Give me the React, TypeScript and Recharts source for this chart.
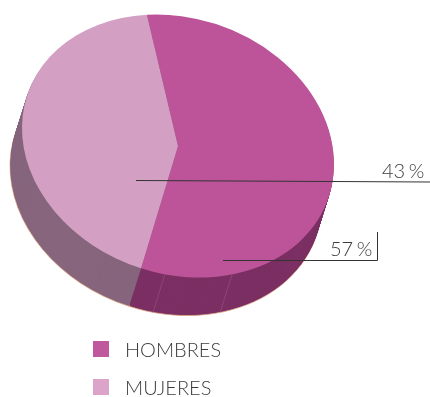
// Tilted pie with an extruded wall, Hombres / Mujeres

import React from "react";
import { PieChart, Pie, Cell, Legend } from "recharts";

const categories = ["HOMBRES", "MUJERES"];
const shares = [57, 43];
const shareLabels = ["57 %", "43 %"];
const topColors = ["#bd5499", "#d3a0c4"];
const wallColors = ["#7b2f63", "#86657d"];
const legendColors = ["#c0589e", "#dca4c8"];
const seamAngles = [-94.8, -69.7];

const data = categories.map((name, i) => ({ name, value: shares[i] }));

const CX = 178;
const CY = 146;
const R = 100;
const START = 101.5;
// circle -> tilted ellipse
const SKEW = [1.56, 0.18, 0, 1.303];
const DEPTH_X = -12;
const DEPTH_Y = 38;
const depthSteps = Array.from({ length: DEPTH_Y + 1 }, (_, i) => DEPTH_Y - i);

const FONT = "Lato, sans-serif";
const TEXT_COLOR = "#3c3c3c";

// The pie draws round, so every layer is skewed with css
const layerCss = depthSteps
  .map((step) => {
    const dx = (DEPTH_X * step) / DEPTH_Y;
    return `.layer-${step} .recharts-pie-sector { transform: translate(${CX + dx}px, ${CY + step}px) matrix(${SKEW.join(",")},0,0) translate(${-CX}px, ${-CY}px); }`;
  })
  .join("\n");

function rimPoint(angle: number) {
  const a = (angle * Math.PI) / 180;
  const u = R * Math.cos(a);
  const v = -R * Math.sin(a);
  return {
    x: CX + SKEW[0] * u + SKEW[2] * v,
    y: CY + SKEW[1] * u + SKEW[3] * v,
  };
}

function ChartLegend() {
  return (
    <div style={{ fontFamily: FONT, fontWeight: 300, fontSize: 20, color: TEXT_COLOR }}>
      {categories.map((name, i) => (
        <div
          key={name}
          style={{
            position: "relative",
            height: 18,
            marginBottom: i < categories.length - 1 ? 20 : 0,
            lineHeight: "18px",
          }}
        >
          <span
            style={{
              position: "absolute",
              left: 0,
              top: 1,
              width: 16,
              height: 16,
              background: legendColors[i],
            }}
          />
          <span style={{ position: "absolute", left: 32, top: 0, whiteSpace: "nowrap" }}>{name}</span>
        </div>
      ))}
    </div>
  );
}

export default function App() {
  return (
    <div style={{ position: "fixed", left: 0, top: 0, width: 430, height: 397 }}>
      <style>{layerCss}</style>
      <PieChart width={430} height={397} margin={{ top: 0, right: 0, bottom: 0, left: 0 }}>
        {/* Wall: stacked copies from the bottom up, top face is step 0 */}
        {depthSteps.map((step) => (
          <Pie
            key={step}
            className={`layer-${step}`}
            data={data}
            dataKey="value"
            cx={CX}
            cy={CY}
            outerRadius={R}
            startAngle={START}
            endAngle={START - 360}
            stroke={step === DEPTH_Y ? "#e0a57e" : "none"}
            strokeWidth={step === DEPTH_Y ? 0.5 : 0}
            isAnimationActive={false}
          >
            {data.map((d, i) => (
              <Cell key={d.name} fill={step === 0 ? topColors[i] : wallColors[i]} />
            ))}
          </Pie>
        ))}

        <Legend
          content={<ChartLegend />}
          layout="vertical"
          wrapperStyle={{ position: "absolute", left: 93, top: 340, width: 200 }}
        />
      </PieChart>

      {/* Seams, leader lines and labels sit over the pie */}
      <svg
        width={430}
        height={397}
        style={{ position: "absolute", left: 0, top: 0, pointerEvents: "none" }}
      >
        {seamAngles.map((angle) => {
          const p = rimPoint(angle);
          return (
            <line
              key={angle}
              x1={p.x}
              y1={p.y}
              x2={p.x + DEPTH_X}
              y2={p.y + DEPTH_Y}
              stroke="#a9618f"
              strokeOpacity={0.6}
              strokeWidth={0.7}
            />
          );
        })}
        <polyline points="136,180.5 430,182" fill="none" stroke="#333" strokeWidth={1} />
        <polyline points="223,260.5 377.5,260.5 377.5,232" fill="none" stroke="#333" strokeWidth={1} />
        <text x={382} y={178} fontFamily={FONT} fontWeight={300} fontSize={20} wordSpacing={-2} fill={TEXT_COLOR}>
          {shareLabels[1]}
        </text>
        <text x={330} y={256} fontFamily={FONT} fontWeight={300} fontSize={20} wordSpacing={-2} fill={TEXT_COLOR}>
          {shareLabels[0]}
        </text>
      </svg>
    </div>
  );
}
